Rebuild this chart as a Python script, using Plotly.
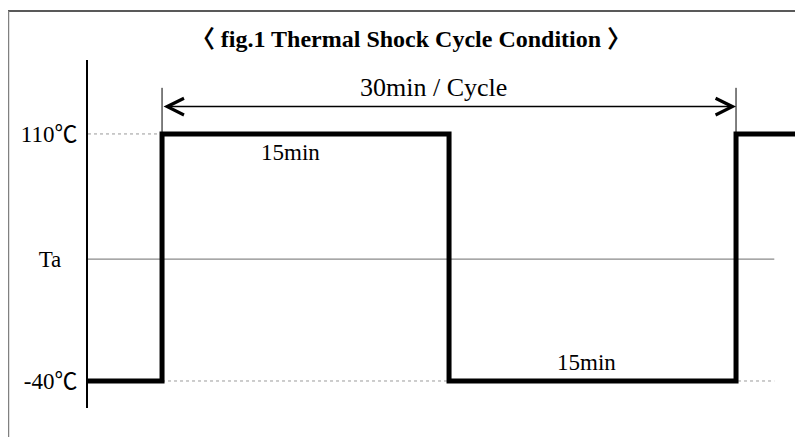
import plotly.graph_objects as go

# ---- data ----
time_min = [-3.87, 0, 0, 15, 15, 30, 30, 33.5]          # minutes
temp_c = [-40, -40, 110, 110, -40, -40, 110, 110]       # temperature level
level_vals = [-40, 34, 110]
level_text = ["-40℃", "Ta\u00a0\u00a0\u2009", "110℃"]
cycle_start, cycle_end = 0, 30
high_temp, low_temp, ta_temp = 110, -40, 34
grid_end = 32.0
arrow_y = 126.6
tick_top = 138.0
title_text = "〈 fig.1 Thermal Shock Cycle Condition 〉"
cycle_label = "30min / Cycle"
dwell_labels = ["15min", "15min"]
dwell_x = [6.7, 22.2]
dwell_y = [98.5, -28.5]

FONT = "Liberation Serif, Times New Roman, Noto Sans CJK JP, serif"

fig = go.Figure()
fig.add_trace(go.Scatter(
    x=time_min, y=temp_c, mode="lines",
    line=dict(color="black", width=5),
    hoverinfo="skip", showlegend=False,
))

shapes = [
    # reference levels
    dict(type="line", xref="x", yref="y", x0=time_min[0], x1=cycle_start,
         y0=high_temp, y1=high_temp, line=dict(color="#9a9a9a", width=1, dash="dot"), layer="below"),
    dict(type="line", xref="x", yref="y", x0=cycle_start, x1=grid_end,
         y0=low_temp, y1=low_temp, line=dict(color="#9a9a9a", width=1, dash="dot"), layer="below"),
    dict(type="line", xref="x", yref="y", x0=time_min[0], x1=grid_end,
         y0=ta_temp, y1=ta_temp, line=dict(color="#8a8a8a", width=1.2), layer="below"),
    # cycle limit ticks
    dict(type="line", xref="x", yref="y", x0=cycle_start, x1=cycle_start,
         y0=high_temp, y1=tick_top, line=dict(color="black", width=1)),
    dict(type="line", xref="x", yref="y", x0=cycle_end, x1=cycle_end,
         y0=high_temp, y1=tick_top, line=dict(color="black", width=1)),
    # outer frame
    dict(type="line", xref="paper", yref="paper", x0=-0.1119, x1=1.0,
         y0=1.1408, y1=1.1408, line=dict(color="#222222", width=1.5)),
    dict(type="line", xref="paper", yref="paper", x0=-0.1119, x1=-0.1119,
         y0=1.1408, y1=-0.1, line=dict(color="#808080", width=2.5)),
]

annotations = [
    dict(x=cycle_end, y=arrow_y, ax=cycle_start, ay=arrow_y, xref="x", yref="y",
         axref="x", ayref="y", text="", showarrow=True, arrowside="end+start",
         arrowhead=5, startarrowhead=5, arrowwidth=1.5, arrowsize=2.2,
         startarrowsize=2.2, arrowcolor="black", standoff=0, startstandoff=0),
    dict(x=14.2, y=tick_top, xref="x", yref="y", text=cycle_label, showarrow=False,
         font=dict(family=FONT, size=26, color="black"), yanchor="middle"),
]
for t, xx, yy in zip(dwell_labels, dwell_x, dwell_y):
    annotations.append(dict(x=xx, y=yy, xref="x", yref="y", text=t, showarrow=False,
                            font=dict(family=FONT, size=23, color="black"), yanchor="middle"))

fig.update_layout(
    width=795, height=429, autosize=False,
    margin=dict(l=80, r=0, t=52, b=29, pad=0),
    paper_bgcolor="white", plot_bgcolor="white",
    title=dict(text="<b>" + title_text + "</b>", x=403 / 795, xref="container", xanchor="center",
               y=1 - 31 / 429, yref="container", yanchor="middle",
               font=dict(family=FONT, size=24, color="black")),
    xaxis=dict(range=[time_min[0], time_min[-1]], visible=False, showgrid=False, zeroline=False),
    yaxis=dict(range=[-56.4, 154.9], tickvals=level_vals, ticktext=level_text,
               showline=True, linecolor="black", linewidth=2, showgrid=False, zeroline=False,
               ticks="", ticklabelstandoff=4,
               tickfont=dict(family=FONT, size=23, color="black")),
    shapes=shapes, annotations=annotations, showlegend=False,
)

fig.write_html("out.html")
